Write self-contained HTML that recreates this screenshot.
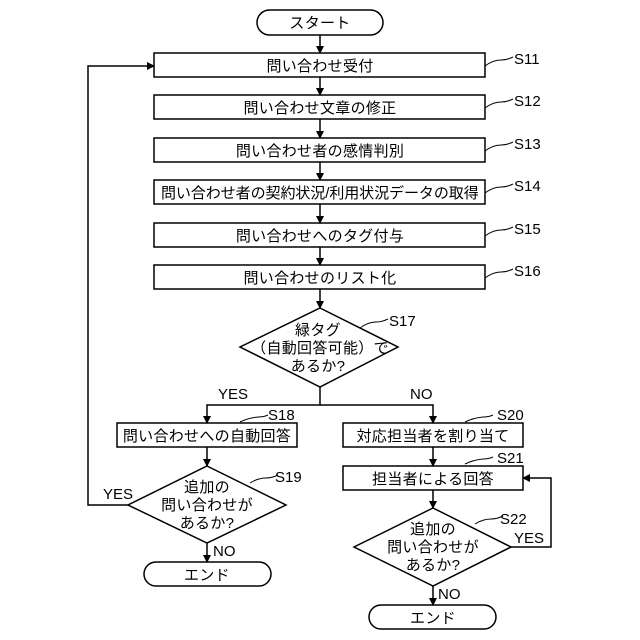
<!DOCTYPE html>
<html><head><meta charset="utf-8"><style>
html,body{margin:0;padding:0;background:#fff}
svg{display:block}
text{font-family:"Liberation Sans","Noto Sans CJK JP",sans-serif;fill:#000}
.t{font-size:15px;text-anchor:middle;letter-spacing:0.3px}
.l{font-size:15px}
</style></head><body>
<svg width="640" height="640" viewBox="0 0 640 640" xmlns="http://www.w3.org/2000/svg">
<defs><marker id="a" markerWidth="8" markerHeight="8" refX="7" refY="4" orient="auto" markerUnits="userSpaceOnUse"><path d="M0,0 L8,4 L0,8 z" fill="#000"/></marker></defs>
<g fill="none" stroke="#000" stroke-width="1.5">
<rect x="257" y="10" width="126" height="25" rx="12.5"/>
<rect x="154" y="53" width="331" height="24"/>
<rect x="154" y="95" width="331" height="24"/>
<rect x="154" y="138" width="331" height="24"/>
<rect x="154" y="180" width="331" height="24"/>
<rect x="154" y="223" width="331" height="24"/>
<rect x="154" y="265" width="331" height="24"/>
<polygon points="320,308 398,347 320,387 240,347"/>
<rect x="117" y="423" width="180" height="24"/>
<rect x="343" y="423" width="180" height="24"/>
<rect x="343" y="466" width="180" height="24"/>
<polygon points="207,466 286,505 207,543 128,505"/>
<polygon points="433,508 511,547 433,586 354,547"/>
<rect x="144" y="562" width="127" height="24" rx="12"/>
<rect x="369" y="605" width="127" height="24" rx="12"/>
<g marker-end="url(#a)">
<line x1="320" y1="35" x2="320" y2="53"/>
<line x1="320" y1="77" x2="320" y2="95"/>
<line x1="320" y1="119" x2="320" y2="138"/>
<line x1="320" y1="162" x2="320" y2="180"/>
<line x1="320" y1="204" x2="320" y2="223"/>
<line x1="320" y1="247" x2="320" y2="265"/>
<line x1="320" y1="289" x2="320" y2="308"/>
<polyline points="320,387 320,405 207,405 207,423"/>
<polyline points="320,405 433,405 433,423"/>
<line x1="433" y1="447" x2="433" y2="466"/>
<line x1="433" y1="490" x2="433" y2="508"/>
<line x1="207" y1="447" x2="207" y2="466"/>
<line x1="207" y1="543" x2="207" y2="562"/>
<line x1="433" y1="586" x2="433" y2="605"/>
<polyline points="128,505 88,505 88,66 154,66"/>
<polyline points="511,547 551,547 551,478 523,478"/>
</g>
<g stroke-width="1">
<path d="M485,66 q8,-6 16,-6 q6,0 12,-3"/>
<path d="M485,108 q8,-6 16,-6 q6,0 12,-3"/>
<path d="M485,151 q8,-6 16,-6 q6,0 12,-3"/>
<path d="M485,193 q8,-6 16,-6 q6,0 12,-3"/>
<path d="M485,236 q8,-6 16,-6 q6,0 12,-3"/>
<path d="M485,278 q8,-6 16,-6 q6,0 12,-3"/>
<path d="M360,328 q8,-6 16,-6 q6,0 12,-3"/>
<path d="M240,422 q8,-4 18,-5 q6,0 10,-2"/>
<path d="M465,422 q8,-4 18,-5 q6,0 10,-2"/>
<path d="M465,464 q8,-4 18,-5 q6,0 10,-2"/>
<path d="M250,483 q8,-5 16,-5 q6,0 12,-3"/>
<path d="M475,524 q8,-5 16,-5 q6,0 12,-3"/>
</g>
</g>
<g class="t">
<text x="320" y="28">スタート</text>
<text x="320" y="71">問い合わせ受付</text>
<text x="320" y="113">問い合わせ文章の修正</text>
<text x="320" y="156">問い合わせ者の感情判別</text>
<text x="320" y="198" textLength="318" lengthAdjust="spacing">問い合わせ者の契約状況/利用状況データの取得</text>
<text x="320" y="241">問い合わせへのタグ付与</text>
<text x="320" y="283">問い合わせのリスト化</text>
<text x="318" y="335">緑タグ</text>
<text x="320" y="353">（自動回答可能）で</text>
<text x="318" y="371">あるか?</text>
<text x="207" y="441">問い合わせへの自動回答</text>
<text x="433" y="441">対応担当者を割り当て</text>
<text x="433" y="484">担当者による回答</text>
<text x="207" y="492">追加の</text>
<text x="207" y="510">問い合わせが</text>
<text x="207" y="528">あるか?</text>
<text x="433" y="534">追加の</text>
<text x="433" y="552">問い合わせが</text>
<text x="433" y="570">あるか?</text>
<text x="207" y="580">エンド</text>
<text x="433" y="623">エンド</text>
</g>
<g class="l">
<text x="514" y="64">S11</text>
<text x="514" y="106">S12</text>
<text x="514" y="149">S13</text>
<text x="514" y="191">S14</text>
<text x="514" y="234">S15</text>
<text x="514" y="276">S16</text>
<text x="389" y="326">S17</text>
<text x="268" y="420">S18</text>
<text x="497" y="420">S20</text>
<text x="497" y="463">S21</text>
<text x="275" y="482">S19</text>
<text x="500" y="524">S22</text>
<text x="218" y="399">YES</text>
<text x="410" y="399">NO</text>
<text x="103" y="499">YES</text>
<text x="514" y="543">YES</text>
<text x="213" y="556">NO</text>
<text x="438" y="599">NO</text>
</g>
</svg>
</body></html>
